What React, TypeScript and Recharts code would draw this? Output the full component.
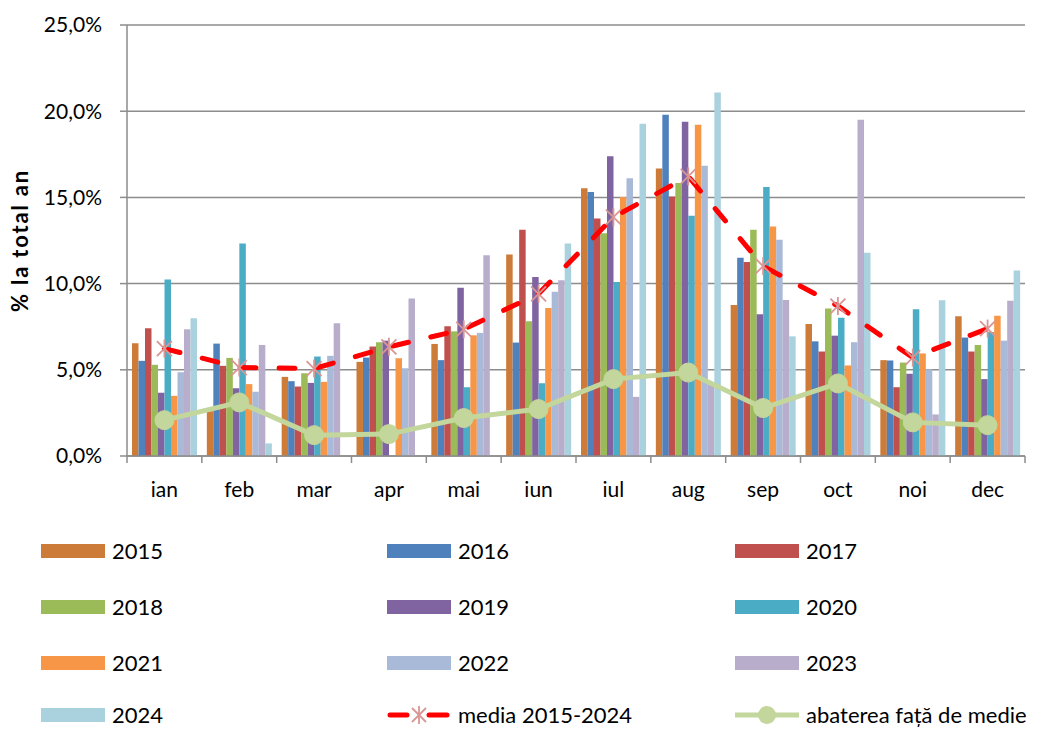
import React from "react";
import { Bar, CartesianGrid, ComposedChart, Line, XAxis, YAxis } from "recharts";

const months = ["ian", "feb", "mar", "apr", "mai", "iun", "iul", "aug", "sep", "oct", "noi", "dec"];

const y2015 = [6.54, 2.6, 4.59, 5.46, 6.5, 11.69, 15.53, 16.67, 8.76, 7.66, 5.56, 8.1];
const y2016 = [5.52, 6.52, 4.34, 5.71, 5.56, 6.58, 15.32, 19.79, 11.5, 6.65, 5.54, 6.87];
const y2017 = [7.41, 5.23, 4.03, 6.35, 7.52, 13.12, 13.77, 15.05, 11.25, 6.06, 3.99, 6.06];
const y2018 = [5.29, 5.69, 4.8, 6.6, 7.23, 7.81, 12.92, 15.84, 13.12, 8.56, 5.42, 6.44];
const y2019 = [3.67, 3.93, 4.24, 6.69, 9.76, 10.38, 17.38, 19.39, 8.22, 6.98, 4.77, 4.46];
const y2020 = [10.24, 12.33, 5.77, null, 3.99, 4.22, 10.09, 13.93, 15.61, 8.02, 8.51, 7.19];
const y2021 = [3.49, 4.17, 4.3, 5.67, 7.0, 8.58, 15.03, 19.21, 13.31, 5.25, 5.95, 8.14];
const y2022 = [4.86, 3.72, 5.81, 5.09, 7.14, 9.53, 16.11, 16.84, 12.54, 6.6, 5.03, 6.69];
const y2023 = [7.35, 6.44, 7.7, 9.14, 11.65, 10.19, 3.43, 4.17, 9.05, 19.5, 2.41, 9.01];
const y2024 = [7.99, 0.73, null, null, null, 12.33, 19.27, 21.08, 6.94, 11.79, 9.03, 10.76];

const media = [6.23, 5.13, 5.07, 6.33, 7.35, 9.41, 13.85, 16.22, 11.01, 8.7, 5.71, 7.39];
const abatere = [2.08, 3.11, 1.21, 1.27, 2.2, 2.72, 4.46, 4.84, 2.78, 4.21, 1.95, 1.79];

const yTicks = [0, 5, 10, 15, 20, 25];

const years = ["2015", "2016", "2017", "2018", "2019", "2020", "2021", "2022", "2023", "2024"];
const yearValues = [y2015, y2016, y2017, y2018, y2019, y2020, y2021, y2022, y2023, y2024];
const yearColors = [
  "#CC7B38", "#4F81BD", "#C0504D", "#9BBB59", "#8064A2",
  "#4BACC6", "#F79646", "#A9BAD8", "#B8AECB", "#A9D1DE",
];

const mediaLabel = "media 2015-2024";
const abatereLabel = "abaterea față de medie";

const data = months.map((m, i) => {
  const row: Record<string, string | number | null> = { month: m, media: media[i], abatere: abatere[i] };
  years.forEach((y, k) => {
    row[y] = yearValues[k][i];
  });
  return row;
});

const W = 1042;
const H = 729;
const PLOT_LEFT = 127;
const PLOT_RIGHT = 17;
const FONT = "Lato, 'Open Sans', sans-serif";
const GRID = "#8C8C8C";
const RED = "#FF0000";
const STAR = "#D99694";
const GREEN = "#C3D69B";

const band = (W - PLOT_LEFT - PLOT_RIGHT) / months.length;

function MonthTick(props: any) {
  const { x, y, payload, index } = props;
  const half = band / 2;
  return (
    <g>
      <line x1={x - half} y1={y} x2={x - half} y2={y + 7} stroke={GRID} strokeWidth={1.5} />
      {index === months.length - 1 && (
        <line x1={x + half} y1={y} x2={x + half} y2={y + 7} stroke={GRID} strokeWidth={1.5} />
      )}
      <text x={x} y={y + 41} textAnchor="middle" fontSize={21} fontFamily={FONT} fill="#000">
        {payload.value}
      </text>
    </g>
  );
}

function StarDot(props: any) {
  const { cx, cy, index } = props;
  if (cx == null || cy == null) return null;
  const r = 9;
  const d = 7.5;
  return (
    <g key={`star-${index}`} stroke={STAR} strokeWidth={1.8}>
      <line x1={cx} y1={cy - r} x2={cx} y2={cy + r} />
      <line x1={cx - d} y1={cy - d} x2={cx + d} y2={cy + d} />
      <line x1={cx - d} y1={cy + d} x2={cx + d} y2={cy - d} />
    </g>
  );
}

function YTitle(props: any) {
  const vb = props.viewBox || { x: 0, y: 0, height: 0 };
  const cx = 19;
  const cy = vb.y + vb.height / 2;
  return (
    <text
      x={cx}
      y={cy}
      transform={`rotate(-90, ${cx}, ${cy})`}
      textAnchor="middle"
      dominantBaseline="central"
      fontSize={22}
      fontWeight={700}
      letterSpacing={1.8}
      fontFamily={FONT}
      fill="#000"
    >
      % la total an
    </text>
  );
}

const legendItems = [
  ...years.map((y, k) => ({ label: y, kind: "bar", color: yearColors[k] })),
  { label: mediaLabel, kind: "media", color: RED },
  { label: abatereLabel, kind: "abatere", color: GREEN },
];

const legendCols = [41, 387, 735];
const legendRows = [551, 607, 663, 715];

function LegendIcon({ kind, color }: { kind: string; color: string }) {
  if (kind === "bar") {
    return <div style={{ width: 64, height: 14, background: color, flex: "none" }} />;
  }
  if (kind === "media") {
    return (
      <svg width={64} height={20} style={{ flex: "none" }}>
        <line x1={3} y1={10} x2={20} y2={10} stroke={RED} strokeWidth={5} strokeLinecap="round" />
        <line x1={42} y1={10} x2={60} y2={10} stroke={RED} strokeWidth={5} strokeLinecap="round" />
        <g stroke={STAR} strokeWidth={1.8}>
          <line x1={32} y1={1} x2={32} y2={19} />
          <line x1={25} y1={3} x2={39} y2={17} />
          <line x1={25} y1={17} x2={39} y2={3} />
        </g>
      </svg>
    );
  }
  return (
    <svg width={64} height={20} style={{ flex: "none" }}>
      <line x1={0} y1={10} x2={64} y2={10} stroke={GREEN} strokeWidth={5} />
      <circle cx={32} cy={10} r={9} fill={GREEN} />
    </svg>
  );
}

function HtmlLegend() {
  return (
    <>
      {legendItems.map((it, i) => {
        const col = i % 3;
        const row = Math.floor(i / 3);
        return (
          <div
            key={it.label}
            style={{
              position: "absolute",
              left: legendCols[col],
              top: legendRows[row] - 10,
              height: 20,
              lineHeight: "20px",
              display: "flex",
              alignItems: "center",
              gap: 7,
              fontFamily: FONT,
              fontSize: 22,
              color: "#000",
              whiteSpace: "nowrap",
            }}
          >
            <LegendIcon kind={it.kind} color={it.color} />
            <span>{it.label}</span>
          </div>
        );
      })}
    </>
  );
}

export default function App() {
  return (
    <div style={{ position: "absolute", left: 0, top: 0, width: W, height: H, background: "#fff" }}>
      <ComposedChart
        width={W}
        height={H}
        data={data}
        margin={{ top: 25, right: PLOT_RIGHT, bottom: 0, left: 0 }}
        barGap={0}
        barSize={6.5}
      >
        <CartesianGrid vertical={false} stroke={GRID} strokeWidth={1.5} />
        <XAxis
          dataKey="month"
          height={273}
          interval={0}
          axisLine={{ stroke: GRID, strokeWidth: 1.5 }}
          tickLine={false}
          tickSize={0}
          tickMargin={0}
          tick={<MonthTick />}
        />
        <YAxis
          width={PLOT_LEFT}
          domain={[0, 25]}
          ticks={yTicks}
          interval={0}
          axisLine={{ stroke: GRID, strokeWidth: 1.5 }}
          tickLine={{ stroke: GRID, strokeWidth: 1.5 }}
          tickSize={7}
          tickMargin={18}
          tick={{ fontSize: 21, fontFamily: FONT, fill: "#000" }}
          tickFormatter={(v) => `${Number(v).toFixed(1).replace(".", ",")}%`}
          label={{ content: <YTitle /> }}
        />
        {years.map((y, k) => (
          <Bar key={y} dataKey={y} fill={yearColors[k]} isAnimationActive={false} />
        ))}
        <Line
          dataKey="media"
          stroke={RED}
          strokeWidth={5}
          strokeDasharray="16 23"
          strokeLinecap="round"
          dot={<StarDot />}
          activeDot={false}
          isAnimationActive={false}
        />
        <Line
          dataKey="abatere"
          stroke={GREEN}
          strokeWidth={5}
          dot={{ r: 9.5, fill: GREEN, stroke: GREEN, strokeWidth: 1 }}
          activeDot={false}
          isAnimationActive={false}
        />
      </ComposedChart>
      <HtmlLegend />
    </div>
  );
}
